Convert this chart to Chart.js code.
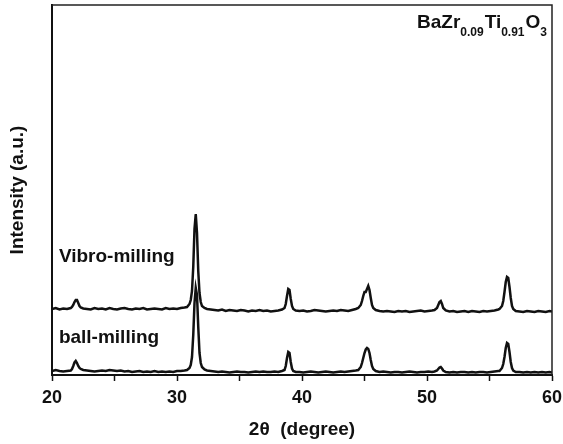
<!DOCTYPE html>
<html>
<head>
<meta charset="utf-8">
<script src="https://cdn.jsdelivr.net/npm/chart.js@4.4.1/dist/chart.umd.min.js"></script>
<style>
  html, body { margin: 0; padding: 0; background: #fff; }
  #wrap { width: 563px; height: 444px; }
</style>
</head>
<body>
<div id="wrap"><canvas id="xrdChart" width="563" height="444"></canvas></div>
<script>
// 2-theta positions (degree)
const angles = [
  20.0, 20.3, 20.6, 20.9, 21.2, 21.5,
  21.6, 21.7, 21.8, 21.9, 22.0, 22.1, 22.2, 22.3, 22.5,
  22.8, 23.1, 23.4, 23.7, 24.0, 24.3, 24.6, 24.9, 25.2, 25.5, 25.8, 26.1, 26.4, 26.7, 27.0, 27.3, 27.6, 27.9, 28.2, 28.5, 28.8, 29.1, 29.4, 29.7, 30.0, 30.3, 30.6,
  30.8, 31.0, 31.1, 31.2, 31.3, 31.4, 31.5, 31.6, 31.7, 31.8, 31.9, 32.0, 32.2, 32.4,
  32.7, 33.0, 33.3, 33.6, 33.9, 34.2, 34.5, 34.8, 35.1, 35.4, 35.7, 36.0, 36.3, 36.6, 36.9, 37.2, 37.5, 37.8, 38.1, 38.4,
  38.6, 38.7, 38.8, 38.9, 39.0, 39.1, 39.2, 39.3, 39.5,
  39.8, 40.1, 40.4, 40.7, 41.0, 41.3, 41.6, 41.9, 42.2, 42.5, 42.8, 43.1, 43.4, 43.7, 44.0, 44.3,
  44.5, 44.7, 44.8, 44.9, 45.0, 45.1, 45.2, 45.3, 45.4, 45.5, 45.6, 45.7, 45.9,
  46.2, 46.5, 46.8, 47.1, 47.4, 47.7, 48.0, 48.3, 48.6, 48.9, 49.2, 49.5, 49.8, 50.1, 50.4,
  50.6, 50.8, 50.9, 51.0, 51.1, 51.2, 51.3, 51.5,
  51.8, 52.1, 52.4, 52.7, 53.0, 53.3, 53.6, 53.9, 54.2, 54.5, 54.8, 55.1, 55.4, 55.7,
  55.8, 56.0, 56.1, 56.2, 56.3, 56.4, 56.5, 56.6, 56.7, 56.8, 56.9, 57.1,
  57.4, 57.7, 58.0, 58.3, 58.6, 58.9, 59.2, 59.5, 59.8, 60.0
];

// intensity (a.u.), vibro-milling pattern (offset upward)
const vibroIntensity = [
  66, 67, 65.5, 66.5, 66, 67,
  68, 70, 73, 75, 75, 72, 69, 67.5, 66.5,
  66, 65.5, 67, 66, 66.5, 65.5, 67, 66, 65.5, 66.5, 67, 66, 65.5, 66.5, 66, 67, 65.5, 66, 66.5, 66, 65.5, 67, 66, 66.5, 66, 67, 67.5,
  68, 71, 75, 84, 108, 146, 161, 142, 104, 82, 73, 69, 67, 66,
  65.5, 65, 64.5, 65.5, 64, 65, 64.5, 64, 65, 64.5, 63.5, 64.5, 64, 65, 64, 64.5, 63.5, 64, 64.5, 65.5,
  67, 71, 79, 86, 85, 76, 69, 66, 64.5,
  64, 64.5, 63.5, 64, 65, 64.5, 64, 63.5, 64, 64.5, 64, 65, 64.5, 64, 65, 66,
  67, 70, 74, 79, 83, 83, 86, 89, 85, 77, 70, 67, 65,
  64, 63.5, 64, 63.5, 63, 64, 63.5, 64, 63, 63.5, 64, 64.5, 63.5, 64, 64.5,
  65, 67, 70, 73, 74, 71, 67, 64.5,
  63.5, 64, 63, 63.5, 64, 63, 64, 63.5, 63, 64, 63.5, 64, 64.5, 65.5,
  66, 69, 74, 83, 93, 98, 97, 88, 77, 69, 66, 64,
  63.5, 63, 64, 63.5, 63, 64, 63.5, 63, 64, 63.5
];

// intensity (a.u.), ball-milling pattern
const ballIntensity = [
  4, 5, 4, 3.5, 4, 4.5,
  6, 9, 12.5, 14, 12, 9, 7, 6, 5,
  4.5, 4, 3.5, 4, 4.5, 4, 5, 4.5, 4, 4.5, 3.5, 4, 3, 3.5, 4, 3, 3.5, 3, 4, 3, 3.5, 3, 3.5, 3, 4, 4, 4.5,
  5, 7, 10, 18, 40, 72, 87, 80, 48, 22, 12, 8, 5.5, 4.5,
  4, 3.5, 3, 3.5, 3, 2.5, 3, 3.5, 3, 3, 2.5, 3, 3.5, 3, 3.5, 3, 3, 3.5, 3, 4,
  5, 9, 17, 23, 22, 13, 6.5, 4, 3,
  3, 2.5, 3, 3.5, 3, 2.5, 3, 3.5, 3, 2.5, 3, 3.5, 3, 3.5, 4, 4.5,
  5, 8, 12, 17, 22, 25.5, 27, 26, 22, 15, 9, 6, 4,
  3, 3.5, 3, 2.5, 3, 3, 2.5, 3, 3.5, 3, 2.5, 3, 3, 3.5, 3,
  3.5, 4.5, 6, 7.5, 8, 6.5, 4.5, 3,
  2.5, 3, 2.5, 3, 3, 2.5, 3, 2.5, 3, 3, 2.5, 3, 3.5, 4,
  4, 7, 11, 18, 27, 32, 31, 23, 13, 7, 4.5, 3,
  3, 2.5, 3, 2.5, 3, 2.5, 3, 2.5, 3, 2.5
];

const xTicks = [20, 30, 40, 50, 60];
const seriesNames = ['Vibro-milling', 'ball-milling'];

const FONT = '"Liberation Sans", Arial, sans-serif';

function toPoints(values) {
  return angles.map((a, i) => ({ x: a, y: values[i] }));
}

// frame + in-plot labels
const decorPlugin = {
  id: 'decor',
  afterDraw(chart) {
    const ctx = chart.ctx;
    const area = chart.chartArea;
    const xs = chart.scales.x;
    const ys = chart.scales.y;
    ctx.save();
    ctx.strokeStyle = '#222';
    ctx.lineWidth = 1.5;
    ctx.beginPath();
    ctx.moveTo(area.left, area.top);
    ctx.lineTo(area.right, area.top);
    ctx.lineTo(area.right, area.bottom);
    ctx.stroke();

    ctx.fillStyle = '#111';
    ctx.textBaseline = 'alphabetic';
    ctx.textAlign = 'left';
    ctx.font = 'bold 19px ' + FONT;
    ctx.fillText(seriesNames[0], xs.getPixelForValue(20.55), ys.getPixelForValue(113));
    ctx.fillText(seriesNames[1], xs.getPixelForValue(20.55), ys.getPixelForValue(32));

    // BaZr0.09Ti0.91O3
    const parts = [['BaZr', false], ['0.09', true], ['Ti', false], ['0.91', true], ['O', false], ['3', true]];
    let px = xs.getPixelForValue(49.2);
    const base = ys.getPixelForValue(347);
    parts.forEach(([t, sub]) => {
      ctx.font = sub ? 'bold 12px ' + FONT : 'bold 19px ' + FONT;
      ctx.fillText(t, px, sub ? base + 8 : base);
      px += ctx.measureText(t).width + (sub ? 1 : 0);
    });
    ctx.restore();
  }
};

const ctx = document.getElementById('xrdChart').getContext('2d');
const xrdChart = new Chart(ctx, {
  type: 'line',
  data: {
    datasets: [{
      label: seriesNames[0],
      data: toPoints(vibroIntensity),
      borderColor: '#111',
      borderWidth: 2.5,
      pointRadius: 0,
      tension: 0,
      fill: false
    }, {
      label: seriesNames[1],
      data: toPoints(ballIntensity),
      borderColor: '#111',
      borderWidth: 2.5,
      pointRadius: 0,
      tension: 0,
      fill: false
    }]
  },
  options: {
    responsive: false,
    animation: false,
    layout: { padding: { top: 5, right: 11, left: 0, bottom: 0 } },
    plugins: {
      legend: { display: false },
      tooltip: { enabled: false }
    },
    scales: {
      x: {
        type: 'linear',
        min: 20,
        max: 60,
        afterFit(scale) {
          scale.height = 69;
          scale.paddingLeft = 0;
          scale.paddingRight = 0;
        },
        ticks: {
          stepSize: 5,
          autoSkip: false,
          maxRotation: 0,
          padding: 6,
          color: '#111',
          font: { family: FONT, size: 18, weight: 'bold' },
          callback: v => xTicks.includes(v) ? String(v) : ''
        },
        grid: {
          display: true,
          drawOnChartArea: false,
          drawTicks: true,
          tickLength: 6,
          tickColor: '#111',
          tickWidth: 1.5
        },
        border: { display: true, color: '#111', width: 2 },
        title: {
          display: true,
          text: '2\u03B8  (degree)',
          color: '#111',
          font: { family: FONT, size: 19, weight: 'bold' },
          padding: { top: 4, bottom: 3 }
        }
      },
      y: {
        min: 0,
        max: 370,
        afterFit(scale) { scale.width = 52; },
        ticks: { display: false },
        grid: { display: false },
        border: { display: true, color: '#111', width: 2 },
        title: {
          display: true,
          text: 'Intensity (a.u.)',
          color: '#111',
          font: { family: FONT, size: 19, weight: 'bold' },
          padding: { top: 6, bottom: 4 }
        }
      }
    }
  },
  plugins: [decorPlugin]
});
</script>
</body>
</html>
